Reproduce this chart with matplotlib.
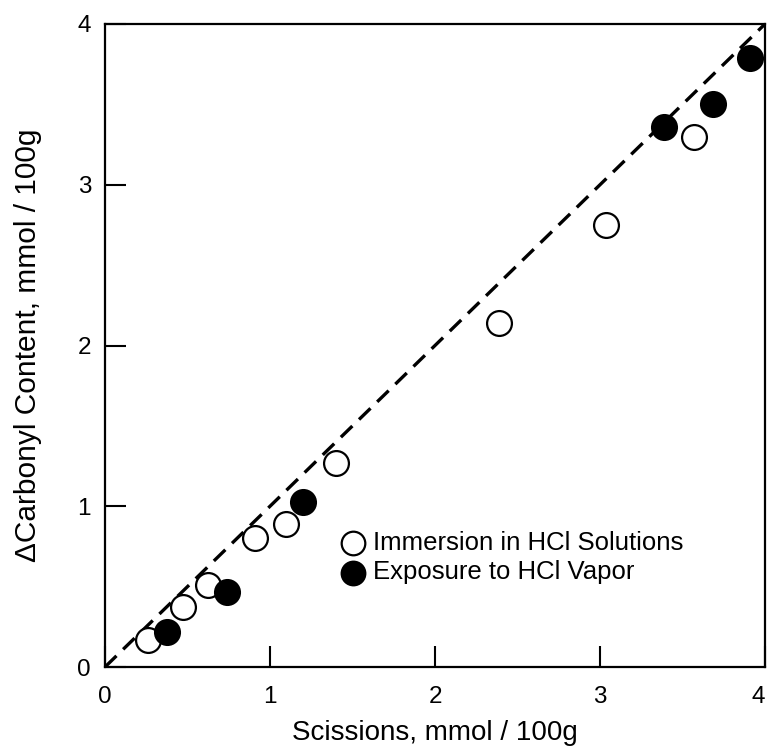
import matplotlib.pyplot as plt

plt.rcParams['font.family'] = ['Liberation Sans', 'DejaVu Sans']

# Immersion in HCl solutions (open circles)
imm_x = [0.26, 0.475, 0.626, 0.911, 1.095, 1.40, 2.388, 3.036, 3.57]
imm_y = [0.168, 0.371, 0.51, 0.80, 0.89, 1.267, 2.14, 2.75, 3.30]

# Exposure to HCl vapor (filled circles)
vap_x = [0.378, 0.737, 1.198, 3.388, 3.687, 3.91]
vap_y = [0.22, 0.468, 1.028, 3.357, 3.50, 3.787]

ticks = [0, 1, 2, 3, 4]

fig = plt.figure(figsize=(7.69, 7.55), dpi=100)
ax = fig.add_axes([105 / 769, 1 - 667 / 755, 660 / 769, 643 / 755])

ax.plot([0, 4], [0, 4], color='black', lw=2.4, ls=(0, (4.8, 2.8)), zorder=1)
ax.scatter(imm_x, imm_y, s=320, facecolors='white', edgecolors='black',
           linewidths=1.6, zorder=3, label='Immersion in HCl Solutions')
ax.scatter(vap_x, vap_y, s=320, facecolors='black', edgecolors='black',
           linewidths=1.6, zorder=3, label='Exposure to HCl Vapor')

ax.set_xlim(0, 4)
ax.set_ylim(0, 4)
ax.set_xticks(ticks)
ax.set_yticks(ticks)
ax.tick_params(direction='in', length=15, width=1.5, labelsize=17.5)
ax.tick_params(axis='x', pad=14)
ax.tick_params(axis='y', pad=10)
ax.get_xticklabels()[-1].set_horizontalalignment('right')
for s in ax.spines.values():
    s.set_linewidth(1.6)

ax.set_xlabel('Scissions, mmol / 100g', fontsize=20, labelpad=8)
ax.set_ylabel('\u0394Carbonyl Content, mmol / 100g', fontsize=21.5)
ax.yaxis.set_label_coords(-0.095, 0.5)

ax.legend(loc='upper left', bbox_to_anchor=(0.346, 0.228), frameon=False,
          fontsize=18.5, handlelength=0.7, handletextpad=0.45,
          borderaxespad=0, labelspacing=0.22, markerscale=0.95)

fig.savefig('out.png', dpi=100)
